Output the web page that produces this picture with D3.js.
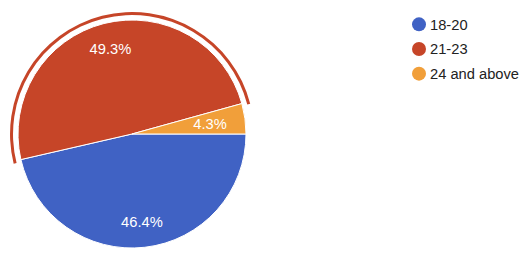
<!DOCTYPE html>
<html>
<head>
<meta charset="utf-8">
<script src="https://cdn.jsdelivr.net/npm/d3@7"></script>
<style>
  html, body { margin: 0; padding: 0; background: #fff; }
  text { font-family: "Liberation Sans", Arial, sans-serif; }
</style>
</head>
<body>
<div id="chart"></div>
<script>
var categories = ['18-20', '21-23', '24 and above'];
var values = [46.4, 49.3, 4.3];
var colors = ['#4062c4', '#c64528', '#f19f3a'];
var highlighted = '21-23';

var width = 525,
    height = 257,
    cx = 132,
    cy = 134,
    radius = 114,
    pi = Math.PI;

var svg = d3.select('#chart')
    .append('svg')
    .attr('width', width)
    .attr('height', height);

var pie = d3.pie()
    .sort(null)
    .value(function (d) { return d.value; })
    .startAngle(pi / 2)
    .endAngle(pi / 2 + 2 * pi);

var data = categories.map(function (c, i) { return { name: c, value: values[i], color: colors[i] }; });
var arcs = pie(data);

var arc = d3.arc().innerRadius(0).outerRadius(radius);

var g = svg.append('g').attr('transform', 'translate(' + cx + ',' + cy + ')');

// highlight ring for the hovered slice
var ring = d3.arc()
    .innerRadius(radius + 5)
    .outerRadius(radius + 8)
    .startAngle(function (d) { return d.startAngle - 0.02; })
    .endAngle(function (d) { return d.endAngle + 0.02; });

g.selectAll('path.ring')
    .data(arcs.filter(function (d) { return d.data.name === highlighted; }))
    .enter()
    .append('path')
    .attr('class', 'ring')
    .attr('d', ring)
    .attr('fill', function (d) { return d.data.color; });

g.selectAll('path.slice')
    .data(arcs)
    .enter()
    .append('path')
    .attr('class', 'slice')
    .attr('d', arc)
    .attr('fill', function (d) { return d.data.color; })
    .attr('stroke', '#fff')
    .attr('stroke-width', 1);

var labelArc = function (d) {
    var r = d.data.value < 10 ? radius * 0.69 : radius * 0.77;
    return d3.arc().innerRadius(r).outerRadius(r).centroid(d);
};

g.selectAll('text.lbl')
    .data(arcs)
    .enter()
    .append('text')
    .attr('class', 'lbl')
    .attr('transform', function (d) { return 'translate(' + labelArc(d) + ')'; })
    .attr('text-anchor', 'middle')
    .attr('dy', '0.36em')
    .attr('fill', '#fff')
    .style('font-size', '14.7px')
    .text(function (d) { return d.data.value.toFixed(1) + '%'; });

// legend
var legendY = d3.scaleBand().domain(categories).range([12, 86]);

var legend = svg.append('g').selectAll('g.item')
    .data(data)
    .enter()
    .append('g')
    .attr('class', 'item')
    .attr('transform', function (d) { return 'translate(419,' + (legendY(d.name) + legendY.bandwidth() / 2) + ')'; });

legend.append('circle')
    .attr('r', 7)
    .attr('fill', function (d) { return d.color; });

legend.append('text')
    .attr('x', 11)
    .attr('dy', '0.36em')
    .attr('fill', '#222')
    .style('font-size', '14.7px')
    .text(function (d) { return d.name; });
</script>
</body>
</html>
